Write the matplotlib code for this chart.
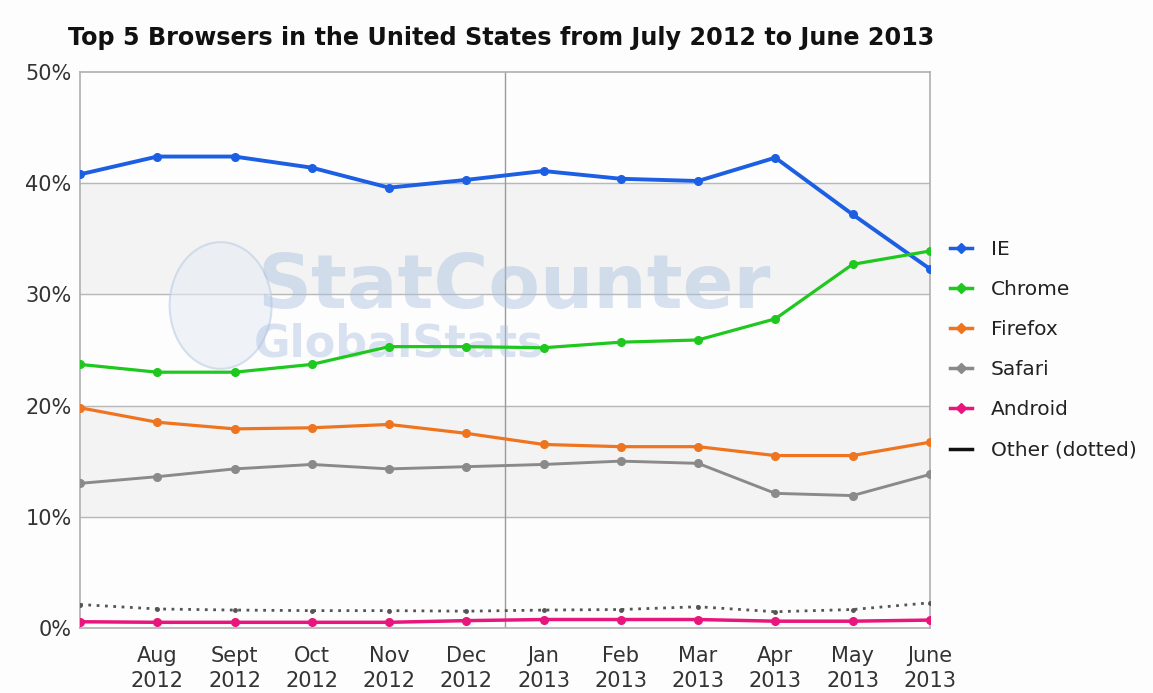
import matplotlib.pyplot as plt
from matplotlib.lines import Line2D
from matplotlib.patches import Ellipse

# Months (July 2012 .. June 2013)
months = ["Jul", "Aug", "Sept", "Oct", "Nov", "Dec",
          "Jan", "Feb", "Mar", "Apr", "May", "June"]
years = ["2012"] * 6 + ["2013"] * 6

# Market share, percent
ie      = [40.8, 42.4, 42.4, 41.4, 39.6, 40.3, 41.1, 40.4, 40.2, 42.3, 37.2, 32.3]
chrome  = [23.7, 23.0, 23.0, 23.7, 25.3, 25.3, 25.2, 25.7, 25.9, 27.8, 32.7, 33.9]
firefox = [19.8, 18.5, 17.9, 18.0, 18.3, 17.5, 16.5, 16.3, 16.3, 15.5, 15.5, 16.7]
safari  = [13.0, 13.6, 14.3, 14.7, 14.3, 14.5, 14.7, 15.0, 14.8, 12.1, 11.9, 13.8]
android = [0.55, 0.5, 0.5, 0.5, 0.5, 0.65, 0.75, 0.75, 0.75, 0.6, 0.6, 0.7]
other   = [2.1, 1.7, 1.6, 1.55, 1.55, 1.5, 1.6, 1.65, 1.9, 1.45, 1.65, 2.25]

series = [("IE", ie, "#1c5fe3", 2.8),
          ("Chrome", chrome, "#1ec81e", 2.3),
          ("Firefox", firefox, "#ee7420", 2.3),
          ("Safari", safari, "#8a8a8a", 2.1),
          ("Android", android, "#e8157d", 2.5)]

x = list(range(len(months)))

fig = plt.figure(figsize=(11.53, 6.93), dpi=100)
fig.patch.set_facecolor("#fdfdfd")
ax = fig.add_axes([0.0694, 0.094, 0.737, 0.802])
ax.set_facecolor("#fdfdfd")

# alternating bands
ax.axhspan(30, 40, color="#f3f3f3", zorder=0)
ax.axhspan(10, 20, color="#f3f3f3", zorder=0)
for yv in [10, 20, 30, 40]:
    ax.axhline(yv, color="#b8b8b8", linewidth=1, zorder=1)
# year separator
ax.axvline(5.5, color="#9a9a9a", linewidth=1, zorder=1)

# watermark (globe + wordmark)
ax.add_patch(Ellipse((1.82, 29.0), 1.32, 11.4, facecolor="#e6edf6",
                     edgecolor="#bccde4", linewidth=1.5, alpha=0.6, zorder=1.5))
ax.text(2.3, 30.6, "StatCounter", fontsize=54, fontweight="bold", color="#a9c1e0",
        alpha=0.45, va="center", ha="left", zorder=1.5)
ax.text(2.25, 25.5, "GlobalStats", fontsize=32, fontweight="bold", color="#a9c1e0",
        alpha=0.45, va="center", ha="left", zorder=1.5)

for name, vals, col, lw in series:
    ax.plot(x, vals, color=col, linewidth=lw, marker="o", markersize=5.5, zorder=3)
ax.plot(x, other, color="#555555", linewidth=2, linestyle=(0, (1, 2.0)),
        marker="o", markersize=2.5, zorder=3)

ax.set_xlim(0, 11)
ax.set_ylim(0, 50)
ax.set_xticks(x[1:])
ax.set_xticklabels([f"{m}\n{y}" for m, y in zip(months[1:], years[1:])],
                   fontsize=15, color="#333333", linespacing=1.3)
ax.set_yticks([0, 10, 20, 30, 40, 50])
ax.set_yticklabels([f"{v}%" for v in [0, 10, 20, 30, 40, 50]],
                   fontsize=15, color="#333333")
ax.tick_params(axis="x", length=0, pad=13)
ax.tick_params(axis="y", length=0, pad=6)
for s in ax.spines.values():
    s.set_color("#b0b0b0")
    s.set_linewidth(1.2)

fig.text(0.435, 0.945, "Top 5 Browsers in the United States from July 2012 to June 2013",
         fontsize=17.2, fontweight="bold", ha="center", va="center", color="#111111")

handles = [Line2D([], [], color=c, linewidth=2.5, marker="D", markersize=5)
           for _, _, c, _ in series]
handles.append(Line2D([], [], color="#111111", linewidth=2.5))
labels = [s[0] for s in series] + ["Other (dotted)"]
fig.legend(handles, labels, loc="upper left", bbox_to_anchor=(0.808, 0.68),
           frameon=False, fontsize=14.5, labelspacing=1.05, handlelength=1.1,
           handletextpad=0.95, labelcolor="#222222")

fig.savefig("out.png", dpi=100, facecolor=fig.get_facecolor())
